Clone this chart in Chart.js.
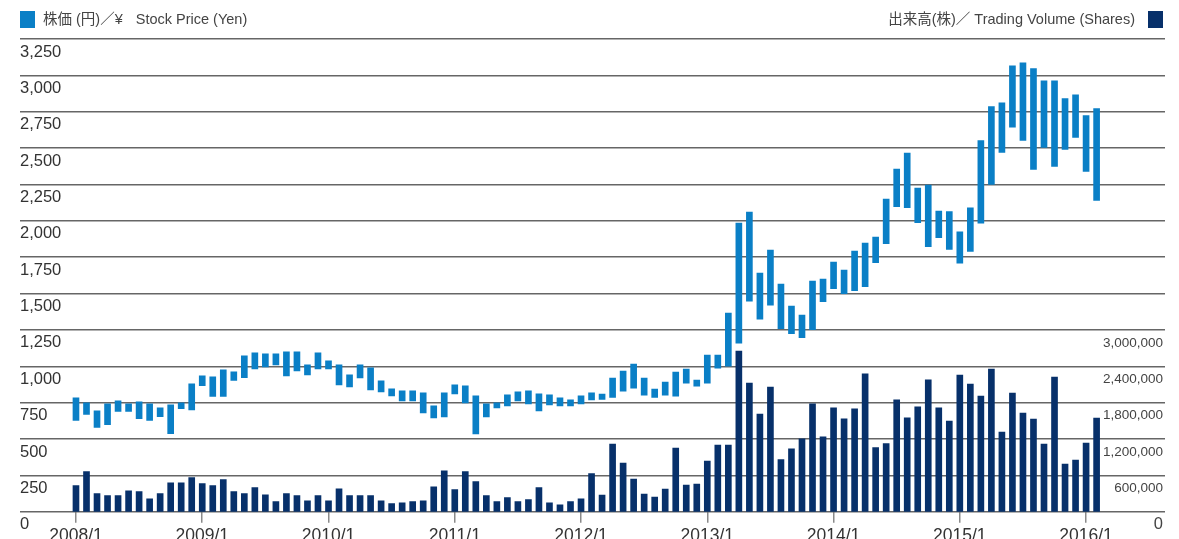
<!DOCTYPE html>
<html>
<head>
<meta charset="utf-8">
<script src="https://cdn.jsdelivr.net/npm/chart.js@4.4.1/dist/chart.umd.min.js"></script>
<style>
  html, body { margin: 0; padding: 0; background: #fff; overflow: hidden; }
  #wrap { position: relative; width: 1179px; height: 539px; }
  .lg { position: absolute; top: 11px; font: 14.5px 'Liberation Sans', 'Noto Sans CJK JP', sans-serif;
        color: #444; line-height: 17px; white-space: nowrap; }
  .sq { display: inline-block; width: 15px; height: 17px; vertical-align: top; }
</style>
</head>
<body>
<div id="wrap">
  <canvas id="chart" width="1179" height="539"></canvas>
  <div class="lg" style="left:20px">
    <span class="sq" style="background:#0a7fc6"></span><span style="margin-left:8px">株価 (円)／¥</span><span style="margin-left:13px">Stock Price (Yen)</span>
  </div>
  <div class="lg" style="right:16px">
    <span>出来高(株)／ Trading Volume (Shares)</span><span class="sq" style="background:#07306a;margin-left:13px"></span>
  </div>
</div>
<script>
// 月（2008/1〜2016/2）
const months = [
  '2008/1','2008/2','2008/3','2008/4','2008/5','2008/6','2008/7','2008/8','2008/9','2008/10','2008/11','2008/12',
  '2009/1','2009/2','2009/3','2009/4','2009/5','2009/6','2009/7','2009/8','2009/9','2009/10','2009/11','2009/12',
  '2010/1','2010/2','2010/3','2010/4','2010/5','2010/6','2010/7','2010/8','2010/9','2010/10','2010/11','2010/12',
  '2011/1','2011/2','2011/3','2011/4','2011/5','2011/6','2011/7','2011/8','2011/9','2011/10','2011/11','2011/12',
  '2012/1','2012/2','2012/3','2012/4','2012/5','2012/6','2012/7','2012/8','2012/9','2012/10','2012/11','2012/12',
  '2013/1','2013/2','2013/3','2013/4','2013/5','2013/6','2013/7','2013/8','2013/9','2013/10','2013/11','2013/12',
  '2014/1','2014/2','2014/3','2014/4','2014/5','2014/6','2014/7','2014/8','2014/9','2014/10','2014/11','2014/12',
  '2015/1','2015/2','2015/3','2015/4','2015/5','2015/6','2015/7','2015/8','2015/9','2015/10','2015/11','2015/12',
  '2016/1','2016/2'
];

// 株価 高値・安値（円）
const priceHigh = [
  783, 748, 693, 741, 762, 741, 755, 741, 714, 734, 748, 879,
  934, 927, 975, 961, 1071, 1092, 1085, 1085, 1099, 1099, 1009, 1092,
  1037, 1009, 941, 1009, 989, 899, 844, 831, 831, 817, 728, 817,
  872, 865, 796, 741, 748, 803, 824, 831, 810, 803, 783, 769,
  796, 817, 808, 918, 967, 1015, 918, 843, 891, 960, 980, 905,
  1077, 1077, 1365, 1984, 2060, 1640, 1798, 1565, 1414, 1352, 1586, 1599,
  1716, 1661, 1792, 1847, 1888, 2149, 2356, 2466, 2225, 2246, 2067, 2063,
  1925, 2090, 2551, 2785, 2812, 3066, 3087, 3046, 2963, 2963, 2840, 2867,
  2723, 2771
];
const priceLow = [
  627, 668, 579, 599, 689, 689, 640, 627, 654, 537, 709, 700,
  867, 792, 792, 902, 922, 982, 996, 1009, 934, 968, 941, 982,
  982, 872, 858, 920, 838, 824, 796, 762, 762, 679, 645, 652,
  810, 748, 535, 652, 714, 728, 762, 741, 693, 734, 728, 728,
  741, 769, 772, 786, 829, 850, 802, 786, 802, 795, 884, 863,
  884, 987, 1001, 1159, 1448, 1324, 1420, 1258, 1224, 1196, 1251, 1444,
  1533, 1499, 1519, 1547, 1712, 1842, 2097, 2090, 1987, 1822, 1884, 1804,
  1708, 1790, 1983, 2251, 2471, 2643, 2553, 2354, 2505, 2374, 2491, 2574,
  2340, 2141
];

// 出来高（株）
const volume = [
  429000, 660000, 297000, 264000, 264000, 346000, 330000, 214000, 297000, 478000, 478000, 561000,
  462000, 429000, 528000, 330000, 297000, 396000, 280000, 165000, 297000, 264000, 181000, 264000,
  181000, 379000, 264000, 264000, 264000, 181000, 132000, 148000, 165000, 181000, 412000, 676000,
  363000, 660000, 495000, 264000, 165000, 231000, 165000, 198000, 396000, 148000, 115000, 165000,
  214000, 627000, 275000, 1116000, 803000, 539000, 291000, 242000, 374000, 1050000, 440000, 456000,
  836000, 1100000, 1100000, 2651000, 2123000, 1611000, 2057000, 858000, 1039000, 1204000, 1782000, 1237000,
  1716000, 1534000, 1699000, 2277000, 1056000, 1122000, 1848000, 1551000, 1732000, 2178000, 1716000, 1496000,
  2255000, 2106000, 1908000, 2354000, 1314000, 1958000, 1628000, 1529000, 1116000, 2222000, 786000, 852000,
  1133000, 1545000
];

// 軸ラベル
const yearTicks = ['2008/1','2009/1','2010/1','2011/1','2012/1','2013/1','2014/1','2015/1','2016/1'];
const VOLUME_LABEL_MAX = 3000000;

const PRICE_COLOR = '#0a7fc6';
const VOLUME_COLOR = '#07306a';

Chart.defaults.font.family = "'Liberation Sans', 'Noto Sans CJK JP', sans-serif";

const ctx = document.getElementById('chart').getContext('2d');

new Chart(ctx, {
  type: 'bar',
  data: {
    datasets: [
      {
        label: '株価',
        data: months.map((m, i) => ({ x: i, y: [priceLow[i], priceHigh[i]] })),
        backgroundColor: PRICE_COLOR,
        yAxisID: 'y',
        barThickness: 6,
        grouped: false,
        order: 0
      },
      {
        label: '出来高',
        data: months.map((m, i) => ({ x: i, y: volume[i] })),
        backgroundColor: VOLUME_COLOR,
        yAxisID: 'y1',
        barThickness: 6,
        grouped: false,
        order: 1
      }
    ]
  },
  options: {
    responsive: false,
    animation: false,
    layout: { padding: { left: 20, right: 14, top: 39, bottom: 0 } },
    plugins: { legend: { display: false }, tooltip: { enabled: false } },
    scales: {
      x: {
        type: 'linear',
        offset: false,
        min: -5.32,
        max: 103.5,
        afterBuildTicks: s => { s.ticks = yearTicks.map(l => ({ value: months.indexOf(l) })); },
        afterFit: s => { s.height = 27.3; },
        border: { display: false },
        grid: { offset: false, drawOnChartArea: false, drawTicks: true, tickLength: 11, color: '#8a8a8a', lineWidth: 1.5 },
        ticks: {
          autoSkip: false, maxRotation: 0, padding: 3, color: '#333',
          font: { size: 17.5 },
          callback: v => months[v]
        }
      },
      y: {
        position: 'left',
        min: 0,
        max: 3250,
        afterFit: s => { s.width = 0; },
        border: { display: false },
        grid: { color: '#666', lineWidth: 1.5, drawTicks: false },
        ticks: {
          stepSize: 250, mirror: true, padding: 0, labelOffset: 13, autoSkip: false,
          color: '#333', font: { size: 16.5 },
          callback: v => v.toLocaleString('en-US')
        }
      },
      y1: {
        position: 'right',
        min: 0,
        max: 7800000,
        afterFit: s => { s.width = 0; },
        border: { display: false },
        grid: { display: false, drawTicks: false },
        ticks: {
          stepSize: 600000, mirror: true, padding: -2, labelOffset: 13, autoSkip: false,
          color: '#444',
          font: c => ({ size: c.tick && c.tick.value === 0 ? 16.5 : 13.5 }),
          callback: v => v <= VOLUME_LABEL_MAX ? v.toLocaleString('en-US') : ''
        }
      }
    }
  }
});
</script>
</body>
</html>
